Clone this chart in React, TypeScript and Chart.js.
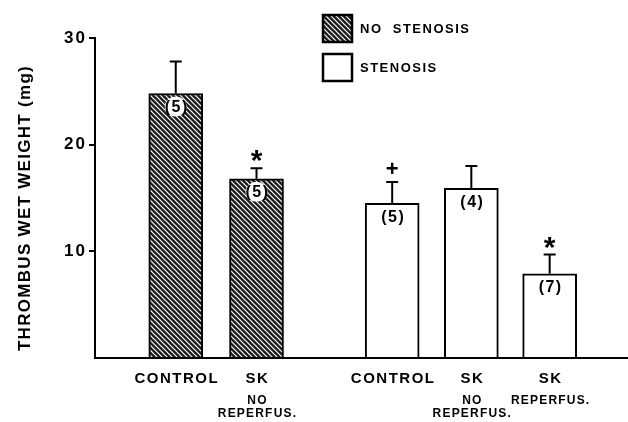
import React, { useEffect, useRef } from 'react';
import { Chart, registerables } from 'chart.js';

Chart.register(...registerables);

// ---- data ----
const groupNames = ['NO STENOSIS', 'STENOSIS'];
const barGroup = [0, 0, 1, 1, 1];
const barLabels = ['CONTROL', 'SK', 'CONTROL', 'SK', 'SK'];
const barSubLabels: string[][] = [[], ['NO', 'REPERFUS.'], [], ['NO', 'REPERFUS.'], ['REPERFUS.']];
const meanWeight = [24.8, 16.8, 14.5, 15.9, 7.9];
const semWeight = [3.0, 1.0, 2.0, 2.1, 1.8];
const nAnimals = [5, 5, 5, 4, 7];
const sigMarks = ['', '*', '+', '', '*'];
const yTicks = [10, 20, 30];
const yTitle = 'THROMBUS WET WEIGHT (mg)';

// layout: slot of each bar along the (linear) x axis
const barSlots = [1.0, 2.0, 3.68, 4.66, 5.63];

const FONT = '"Liberation Sans", Arial, Helvetica, sans-serif';

function makeHatch(): CanvasPattern | string {
  const c = document.createElement('canvas');
  const s = 5;
  c.width = s;
  c.height = s;
  const g = c.getContext('2d');
  if (!g) return '#222';
  g.fillStyle = '#1c1c1c';
  g.fillRect(0, 0, s, s);
  g.strokeStyle = '#ffffff';
  g.lineWidth = 1.2;
  g.beginPath();
  g.moveTo(-1, -1); g.lineTo(s + 1, s + 1);
  g.moveTo(-1, s - 1); g.lineTo(1, s + 1);
  g.moveTo(s - 1, -1); g.lineTo(s + 1, 1);
  g.stroke();
  const p = g.createPattern(c, 'repeat');
  return p || '#222';
}

export default function App() {
  const ref = useRef<HTMLCanvasElement | null>(null);

  useEffect(() => {
    const canvas = ref.current;
    if (!canvas) return;
    const hatch = makeHatch();
    const fills = [hatch, '#ffffff'];

    const annot = {
      id: 'annot',
      beforeDraw(chart: any) {
        (chart.ctx as any).letterSpacing = '2px';
      },
      afterDatasetsDraw(chart: any) {
        const ctx = chart.ctx as CanvasRenderingContext2D;
        const xs = chart.scales.x;
        const ys = chart.scales.y;
        ctx.save();
        for (let i = 0; i < meanWeight.length; i++) {
          const x = xs.getPixelForValue(barSlots[i]);
          const yTop = ys.getPixelForValue(meanWeight[i]);
          const yErr = ys.getPixelForValue(meanWeight[i] + semWeight[i]);
          // error bar
          ctx.strokeStyle = '#000';
          ctx.lineWidth = 2;
          ctx.beginPath();
          ctx.moveTo(x, yTop);
          ctx.lineTo(x, yErr);
          ctx.moveTo(x - 6, yErr);
          ctx.lineTo(x + 6, yErr);
          ctx.stroke();
          // n label
          const ny = yTop + 13;
          if (barGroup[i] === 0) {
            ctx.fillStyle = '#fff';
            ctx.beginPath();
            ctx.ellipse(x, ny, 11, 10, 0, 0, Math.PI * 2);
            ctx.fill();
          }
          (ctx as any).letterSpacing = '1.5px';
          ctx.font = `bold 16px ${FONT}`;
          ctx.fillStyle = '#000';
          ctx.textAlign = 'center';
          ctx.textBaseline = 'middle';
          ctx.fillText(`(${nAnimals[i]})`, x + 1, ny + 1);
          // significance marks
          if (sigMarks[i]) {
            (ctx as any).letterSpacing = '0px';
            if (sigMarks[i] === '*') {
              ctx.font = `bold 30px ${FONT}`;
              ctx.textBaseline = 'top';
              ctx.fillText('*', x, yErr - 21);
            } else {
              ctx.font = `bold 22px ${FONT}`;
              ctx.textBaseline = 'middle';
              ctx.fillText(sigMarks[i], x, yErr - 12);
            }
          }
        }
        ctx.restore();
      },
      afterDraw(chart: any) {
        const ctx = chart.ctx as CanvasRenderingContext2D;
        const xs = chart.scales.x;
        const area = chart.chartArea;
        ctx.save();
        ctx.fillStyle = '#000';
        ctx.textAlign = 'center';
        ctx.textBaseline = 'middle';
        // category labels
        for (let i = 0; i < barLabels.length; i++) {
          const x = xs.getPixelForValue(barSlots[i]);
          (ctx as any).letterSpacing = '1.5px';
          ctx.font = `bold 15px ${FONT}`;
          ctx.fillText(barLabels[i], x + 1, area.bottom + 21);
          ctx.font = `bold 12px ${FONT}`;
          (ctx as any).letterSpacing = '1.2px';
          barSubLabels[i].forEach((t, k) => {
            ctx.fillText(t, x + 1, area.bottom + 43 + 13 * k);
          });
        }
        // y title
        ctx.save();
        ctx.translate(25, (area.top + area.bottom) / 2 + 10);
        ctx.rotate(-Math.PI / 2);
        (ctx as any).letterSpacing = '1.3px';
        ctx.font = `bold 17px ${FONT}`;
        ctx.fillText(yTitle, 0, 0);
        ctx.restore();
        // legend
        const lx = 323;
        const rows = [15, 54];
        ctx.textAlign = 'left';
        (ctx as any).letterSpacing = '1.5px';
        ctx.font = `bold 13px ${FONT}`;
        groupNames.forEach((name, g) => {
          const y0 = rows[g];
          ctx.fillStyle = fills[g] as any;
          ctx.fillRect(lx, y0, 29, 27);
          ctx.strokeStyle = '#000';
          ctx.lineWidth = 2.5;
          ctx.strokeRect(lx, y0, 29, 27);
          ctx.fillStyle = '#000';
          ctx.fillText(name.replace(' ', '  '), lx + 37, y0 + 14);
        });
        ctx.restore();
        (ctx as any).letterSpacing = '0px';
      },
    };

    const datasets = groupNames.map((name, g) => ({
      label: name,
      data: meanWeight
        .map((v, i) => ({ x: barSlots[i], y: v, g: barGroup[i] }))
        .filter((d) => d.g === g)
        .map((d) => ({ x: d.x, y: d.y })),
      backgroundColor: fills[g] as any,
      borderColor: '#000',
      borderWidth: 2,
      barThickness: 54,
      grouped: false,
    }));

    const chart = new Chart(canvas, {
      type: 'bar',
      data: { datasets } as any,
      options: {
        responsive: false,
        animation: false,
        layout: { padding: { top: 38, left: 0, right: 0, bottom: 0 } },
        plugins: { legend: { display: false }, tooltip: { enabled: false } },
        scales: {
          x: {
            type: 'linear',
            min: 0,
            max: 6.6,
            offset: false,
            grid: { display: false },
            ticks: { display: false },
            border: { display: true, color: '#000', width: 2 },
            afterFit: (s: any) => { s.height = 64; },
          },
          y: {
            type: 'linear',
            min: 0,
            max: 30,
            afterBuildTicks: (s: any) => {
              s.ticks = [0, ...yTicks].map((v) => ({ value: v }));
            },
            ticks: {
              callback: (v: any) => (v === 0 ? '' : String(v)),
              font: { family: FONT, size: 17, weight: 'bold' },
              color: '#000',
              padding: 2,
            },
            grid: {
              drawOnChartArea: false,
              drawTicks: true,
              tickLength: 6,
              lineWidth: 2,
              color: (c: any) => (c.tick && c.tick.value === 0 ? 'rgba(0,0,0,0)' : '#000'),
            },
            border: { display: true, color: '#000', width: 2 },
            afterFit: (s: any) => { s.width = 95; },
          },
        },
      } as any,
      plugins: [annot],
    });
    return () => chart.destroy();
  }, []);

  return (
    <div style={{ position: 'absolute', left: 0, top: 0, width: 628, height: 422, background: '#fff' }}>
      <canvas ref={ref} width={628} height={422} style={{ display: 'block' }} />
    </div>
  );
}
